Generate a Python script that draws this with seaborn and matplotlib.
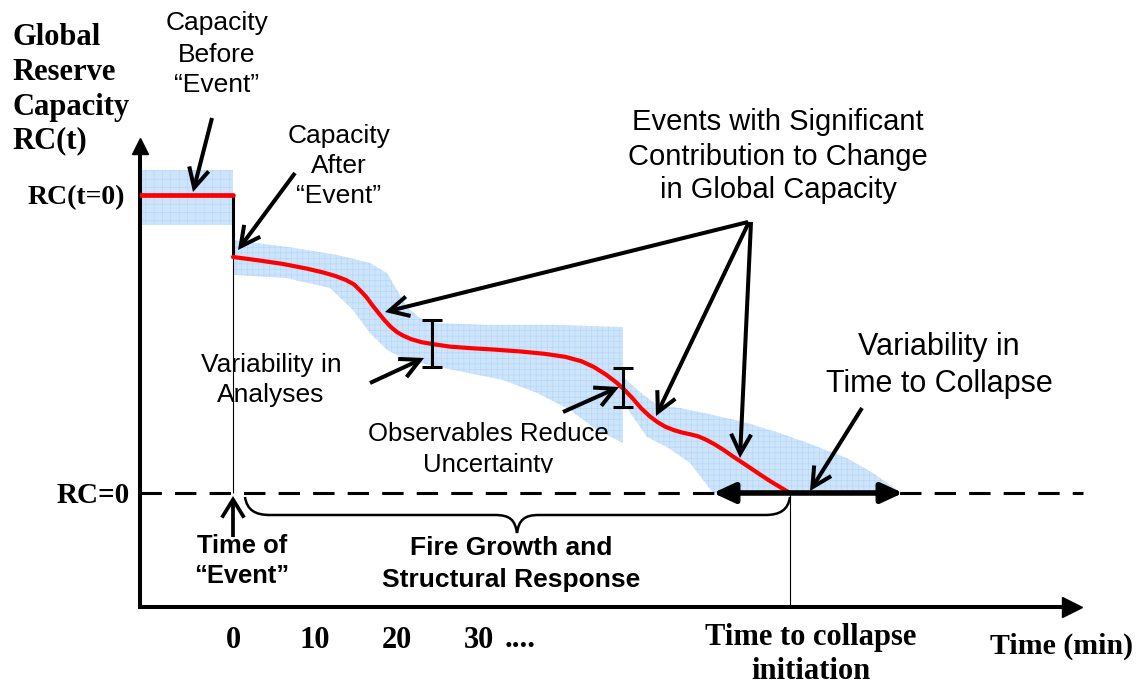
import matplotlib
matplotlib.use("Agg")
import matplotlib.pyplot as plt
import matplotlib.transforms as mtransforms
from matplotlib.patches import FancyArrowPatch, PathPatch, Rectangle
from matplotlib.path import Path
import pandas as pd
import seaborn as sns

# ---------------- data (time in minutes, RC normalised so RC(t=0)=1) -------------
pre_t = [-11.341, 0.0]
pre_rc = [1.0, 1.0]
pre_band_low = [0.899, 0.899]
pre_band_high = [1.084, 1.084]

post_t = [0.0, 3.0, 6.0, 9.0, 11.0, 12.5, 13.75, 14.75, 15.5, 16.25,
          17.0, 17.75, 18.5, 19.25, 20.0, 20.75, 21.75, 23.0, 24.5, 26.5,
          29.0, 32.0, 35.0, 38.0, 40.5, 42.5, 44.0, 45.5, 46.75, 47.75,
          48.75, 49.75, 50.75, 51.75, 52.75, 53.75, 54.75, 55.75, 56.75, 57.75,
          58.75, 59.75, 61.0, 62.5, 64.0, 65.5, 67.0, 67.927]
post_rc = [0.792, 0.781, 0.769, 0.753, 0.740, 0.728, 0.715, 0.700, 0.680, 0.658,
           0.630, 0.604, 0.579, 0.557, 0.540, 0.528, 0.516, 0.506, 0.499, 0.491,
           0.486, 0.481, 0.475, 0.467, 0.457, 0.442, 0.423, 0.397, 0.371, 0.346,
           0.317, 0.285, 0.259, 0.238, 0.222, 0.211, 0.203, 0.197, 0.190, 0.178,
           0.163, 0.146, 0.122, 0.095, 0.067, 0.040, 0.015, 0.0]

band1_upper_t = [0.0, 6.585, 12.683, 16.707, 18.780, 20.0, 21.220, 22.805, 24.878, 30.976, 39.024, 47.561]
band1_upper_rc = [0.849, 0.826, 0.799, 0.772, 0.738, 0.681, 0.624, 0.587, 0.570, 0.564, 0.564, 0.557]
band1_lower_t = [0.0, 6.585, 11.829, 14.634, 16.707, 18.780, 21.220, 26.829, 32.927, 37.073, 41.098, 44.390, 47.561]
band1_lower_rc = [0.732, 0.721, 0.688, 0.614, 0.537, 0.480, 0.446, 0.413, 0.379, 0.336, 0.279, 0.211, 0.168]

band2_upper_t = [47.561, 49.634, 51.707, 54.512, 58.537, 62.683, 66.707, 70.732, 74.878, 78.049, 80.488, 81.341]
band2_upper_rc = [0.389, 0.339, 0.295, 0.285, 0.262, 0.235, 0.201, 0.161, 0.117, 0.067, 0.020, 0.0]
band2_lower_t = [47.561, 50.488, 52.927, 55.732, 57.317, 58.537]
band2_lower_rc = [0.305, 0.188, 0.154, 0.101, 0.044, 0.0]

ibeam_t = [24.268, 47.561]
ibeam_rc = [0.502, 0.354]
ibeam_err = [0.079, 0.065]

event_t = 0.0
collapse_t = 67.927
collapse_range_t = [58.537, 81.707]

tick_values = [0, 10, 20, 30]
tick_labels = ["0", "10", "20", "30"]
rc_tick_values = [0, 1]
rc_tick_labels = ["RC=0", "RC(t=0)"]

X_MIN, X_MAX = -11.341, 102.317
Y_MIN, Y_MAX = -0.3826, 1.1644

# ---------------- style ----------------
sns.set_theme(style="white")
plt.rcParams["font.family"] = ["Liberation Sans", "DejaVu Sans"]
plt.rcParams["hatch.linewidth"] = 0.4

W, H = 1138, 685
fig = plt.figure(figsize=(W / 100, H / 100), dpi=100)
fig.patch.set_facecolor("white")
ax = fig.add_axes([140 / W, (H - 607) / H, (1072 - 140) / W, (607 - 146) / H])
ax.set_facecolor("white")
ax.set_xlim(X_MIN, X_MAX)
ax.set_ylim(Y_MIN, Y_MAX)

px = mtransforms.Affine2D().scale(1, -1).translate(0, H)

SERIF = ["Liberation Serif", "DejaVu Serif"]
SANS = ["Liberation Sans", "DejaVu Sans"]
BAND_FC = "#cde4fb"
BAND_HC = "#b2d6f8"

# spines as axes with arrowheads
for s in ["top", "right"]:
    ax.spines[s].set_visible(False)
for s in ["left", "bottom"]:
    ax.spines[s].set_visible(True)
    ax.spines[s].set_color("black")
    ax.spines[s].set_linewidth(2.9)
ax.plot(1, 0, ">", color="black", markersize=14, transform=ax.transAxes, clip_on=False, zorder=6)
ax.plot(0, 1, "^", color="black", markersize=11, transform=ax.transAxes, clip_on=False, zorder=6)

# bands
ax.fill_between(pre_t, pre_band_low, pre_band_high, facecolor=BAND_FC, edgecolor=BAND_HC,
                hatch="++", linewidth=0, zorder=1)
ax.fill(band1_upper_t + band1_lower_t[::-1], band1_upper_rc + band1_lower_rc[::-1],
        facecolor=BAND_FC, edgecolor=BAND_HC, hatch="+++", linewidth=0, zorder=1)
ax.fill(band2_upper_t + band2_lower_t[::-1], band2_upper_rc + band2_lower_rc[::-1],
        facecolor=BAND_FC, edgecolor=BAND_HC, hatch="+++", linewidth=0, zorder=1)

# RC = 0 dashed line
ax.axhline(0, xmin=0, xmax=(1083 - 140) / 932, color="black", lw=2.2,
           dashes=(7, 4.3), clip_on=False, zorder=2)

# vertical lines: capacity drop, time of event, time to collapse
ax.vlines(event_t, post_rc[0], pre_rc[-1], color="black", lw=2.2, zorder=2)
ax.vlines(event_t, 0, post_rc[0], color="black", lw=0.8, zorder=2)
ax.vlines(collapse_t, Y_MIN, 0, color="black", lw=0.8, zorder=2)

# red capacity curves
df_pre = pd.DataFrame({"t": pre_t, "rc": pre_rc})
df_post = pd.DataFrame({"t": post_t, "rc": post_rc})
sns.lineplot(data=df_pre, x="t", y="rc", color="#ff0000", lw=3.4, ax=ax, sort=False,
             estimator=None, zorder=3)
sns.lineplot(data=df_post, x="t", y="rc", color="#ff0000", lw=3.0, ax=ax, sort=False,
             estimator=None, zorder=3, solid_joinstyle="round", solid_capstyle="round")
ax.set_xlabel("")
ax.set_ylabel("")

# I-beams (variability)
ax.errorbar(ibeam_t, ibeam_rc, yerr=ibeam_err, fmt="none", ecolor="black",
            elinewidth=2.2, capsize=7.2, capthick=2.2, zorder=4)

# variability in time to collapse
ax.annotate("", xy=(collapse_range_t[1], 0), xytext=(collapse_range_t[0], 0),
            arrowprops=dict(arrowstyle="<|-|>,head_length=0.65,head_width=0.3",
                            mutation_scale=20, lw=4, color="black", shrinkA=0, shrinkB=0),
            zorder=5, annotation_clip=False)

# ticks
ax.set_xticks(tick_values, tick_labels)
ax.set_yticks(rc_tick_values, rc_tick_labels)
ax.tick_params(axis="x", length=0, pad=13.5, labelsize=22)
ax.tick_params(axis="y", length=0, labelsize=20)
for lab in ax.get_xticklabels() + ax.get_yticklabels():
    lab.set_fontfamily(SERIF)
    lab.set_fontweight("bold")
    lab.set_color("black")
ax.get_yticklabels()[0].set_fontsize(21)
yt = ax.yaxis.get_major_ticks()
yt[0].set_pad(7.2)
yt[1].set_pad(10.8)
ax.grid(False)

# ---------------- annotations (figure pixel layout) ----------------
def lines_text(lines, x, baselines, size, family, weight="normal", ha="center", clip=None):
    for s, yb in zip(lines, baselines):
        t = fig.text(x, yb, s, transform=px, ha=ha, va="baseline", fontsize=size,
                     family=family, fontweight=weight, color="black")
        if clip is not None:
            t.set_clip_path(clip)


lines_text(["Global", "Reserve", "Capacity", "RC(t)"], 12, [45, 80, 115, 148], 22, SERIF,
           weight="bold", ha="left")
lines_text(["Capacity", "Before", "\u201cEvent\u201d"], 217, [30, 62, 92], 19, SANS)
lines_text(["Capacity", "After", "\u201cEvent\u201d"], 339, [143, 173, 203], 19, SANS)
lines_text(["Events with Significant", "Contribution to Change", "in Global Capacity"], 778,
           [130, 165, 198], 21, SANS)
lines_text(["Variability in", "Analyses"], 271, [372, 402], 19, SANS)
clip_rect = Rectangle((0, 0), W, 473, transform=px)
lines_text(["Observables Reduce", "Uncertainty"], 488, [441, 472], 18.5, SANS, clip=clip_rect)
lines_text(["Variability in", "Time to Collapse"], 939, [355, 392], 22, SANS)
lines_text(["Time of", "\u201cEvent\u201d"], 242, [553, 583], 18.4, SANS, weight="bold")
lines_text(["Fire Growth and", "Structural Response"], 511, [555, 587], 19, SANS, weight="bold")
lines_text(["Time to collapse", "initiation"], 811, [645, 679], 22, SERIF, weight="bold")
lines_text(["Time (min)"], 990, [654], 21.5, SERIF, weight="bold", ha="left")
lines_text(["...."], 505, [647], 22, SERIF, weight="bold", ha="left")


def arrow(tail, tip, lw=2.9, hl=0.7, hw=0.36, ms=20):
    fig.add_artist(FancyArrowPatch(tail, tip, transform=px,
                                   arrowstyle=f"->,head_length={hl},head_width={hw}",
                                   mutation_scale=ms, lw=lw, color="black",
                                   shrinkA=0, shrinkB=0, joinstyle="miter", capstyle="butt",
                                   zorder=6))


arrow((212, 118), (193, 192))
arrow((295, 173), (238, 250))
arrow((748, 222), (385, 312))
arrow((749, 222), (656, 416))
arrow((751, 222), (740, 458))
arrow((370, 383), (424, 358))
arrow((563, 412), (619, 387))
arrow((862, 408), (810, 491))
arrow((233, 537), (233, 496), lw=2.7, hl=0.65, hw=0.4)

# curly brace under the response period
brace_verts = [(245, 497), (247, 510), (255, 515), (270, 515), (495, 515),
               (510, 515), (515, 520), (517, 533), (519, 520), (524, 515), (539, 515),
               (765, 515), (780, 515), (788, 510), (790, 497)]
brace_codes = [Path.MOVETO, Path.CURVE4, Path.CURVE4, Path.CURVE4, Path.LINETO,
               Path.CURVE4, Path.CURVE4, Path.CURVE4, Path.CURVE4, Path.CURVE4, Path.CURVE4,
               Path.LINETO, Path.CURVE4, Path.CURVE4, Path.CURVE4]
fig.add_artist(PathPatch(Path(brace_verts, brace_codes), transform=px, facecolor="none",
                         edgecolor="black", lw=1.8))

fig.savefig("out.png", dpi=100)
